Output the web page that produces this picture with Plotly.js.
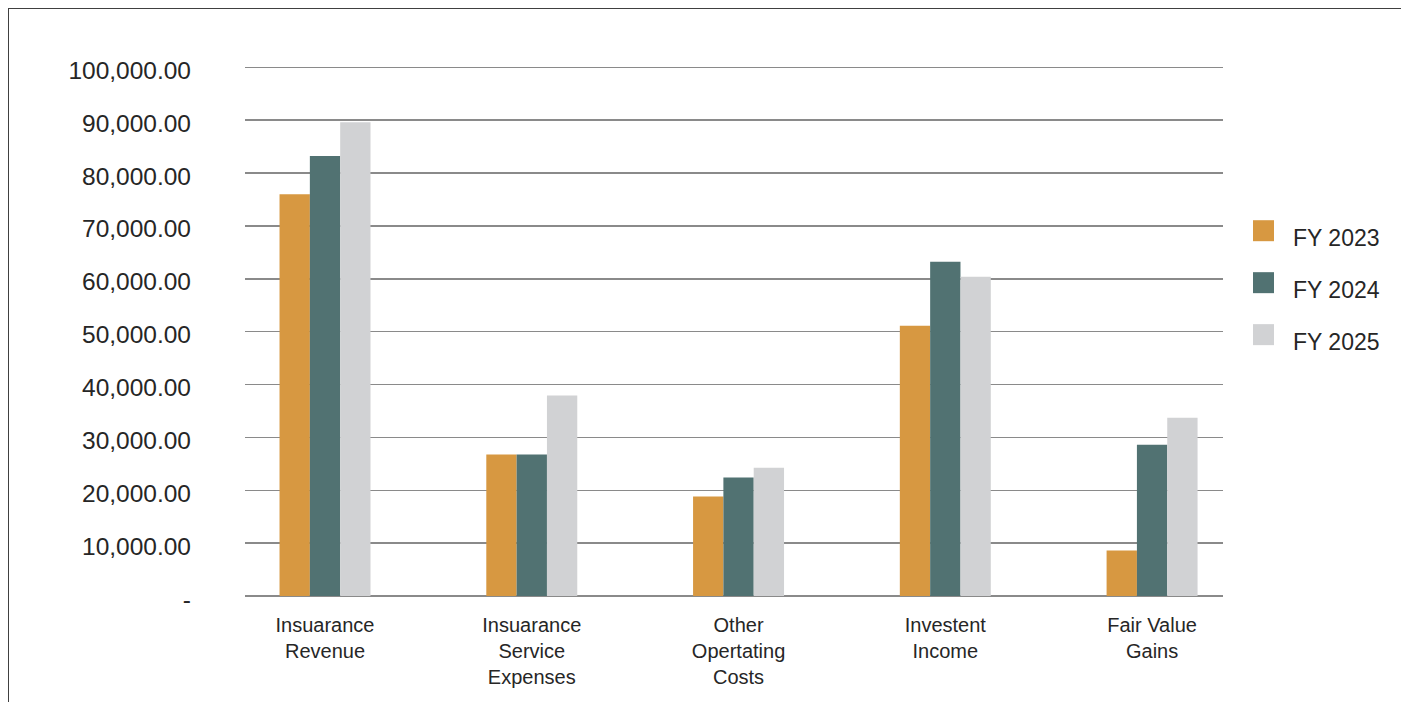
<!DOCTYPE html>
<html>
<head>
<meta charset="utf-8">
<script src="https://cdn.plot.ly/plotly-3.0.1.min.js"></script>
<style>
  html, body { margin: 0; padding: 0; background: #fff; overflow: hidden; }
  #chart { width: 1401px; height: 702px; }
  #frame { position: absolute; left: 8px; top: 8px; width: 1600px; height: 900px;
           border: 1.3px solid #404040; pointer-events: none; box-sizing: border-box; }
</style>
</head>
<body>
<div id="chart"></div>
<div id="frame"></div>
<script>
const categories = [
  "Insuarance<br>Revenue",
  "Insuarance<br>Service<br>Expenses",
  "Other<br>Opertating<br>Costs",
  "Investent<br>Income",
  "Fair Value<br>Gains"
];
const seriesNames = ["FY 2023", "FY 2024", "FY 2025"];
const fy2023 = [76000, 26750, 18800, 51100, 8600];
const fy2024 = [83200, 26750, 22400, 63200, 28600];
const fy2025 = [89600, 37900, 24250, 60400, 33700];
const seriesColors = ["#D79841", "#517272", "#D1D2D4"];
const yTickVals = [0, 10000, 20000, 30000, 40000, 50000, 60000, 70000, 80000, 90000, 100000];
const yTickText = ["-", "10,000.00", "20,000.00", "30,000.00", "40,000.00", "50,000.00",
                   "60,000.00", "70,000.00", "80,000.00", "90,000.00", "100,000.00"];

const values = [fy2023, fy2024, fy2025];
const traces = values.map((v, i) => ({
  type: "bar",
  x: categories,
  y: v,
  name: seriesNames[i],
  marker: { color: seriesColors[i], line: { width: 0 } },
  hoverinfo: "x+y+name"
}));

// plot area in pixels (y range extends slightly above 100,000 so its gridline is drawn)
const W = 1401, H = 702;
const L = 245, R = 1223, B = 596, T100 = 67;
const yMax = 101000;
const T = B - (B - T100) * yMax / 100000;
const px = x => (x - L) / (R - L);
const py = y => (B - y) / (B - T);

const shapes = [];
const annotations = [];
seriesNames.forEach((n, i) => {
  const top = 220 + 52 * i;
  shapes.push({
    type: "rect", xref: "paper", yref: "paper",
    x0: px(1253), x1: px(1274), y0: py(top + 21), y1: py(top),
    fillcolor: seriesColors[i], line: { width: 0 }
  });
  annotations.push({
    xref: "paper", yref: "paper", x: px(1291), y: py(top + 17.5),
    xanchor: "left", yanchor: "middle", showarrow: false, text: n,
    font: { family: "Liberation Sans, Arial, sans-serif", size: 23, color: "#262626" }
  });
});

const layout = {
  width: W, height: H,
  margin: { l: L, r: W - R, t: T, b: H - B, pad: 0 },
  paper_bgcolor: "#ffffff",
  plot_bgcolor: "#ffffff",
  showlegend: false,
  barmode: "group",
  bargap: 0.56,
  bargroupgap: 0,
  font: { family: "Liberation Sans, Arial, sans-serif", color: "#262626" },
  xaxis: {
    type: "category",
    range: [-0.387, 4.343],
    showgrid: false,
    showline: false,
    ticks: "",
    tickfont: { size: 20, color: "#262626" },
    ticklabelstandoff: 15,
    tickangle: 0
  },
  yaxis: {
    range: [0, yMax],
    tickvals: yTickVals,
    ticktext: yTickText,
    showgrid: true,
    gridcolor: "#8a8a8a",
    gridwidth: 1.5,
    zeroline: true,
    zerolinecolor: "#8a8a8a",
    zerolinewidth: 1.5,
    showline: false,
    ticks: "",
    tickfont: { size: 24.5, color: "#262626" },
    ticklabelstandoff: 53,
    ticklabelshift: 3
  },
  shapes: shapes,
  annotations: annotations
};

Plotly.newPlot("chart", traces, layout, { displayModeBar: false, staticPlot: true });
</script>
</body>
</html>
